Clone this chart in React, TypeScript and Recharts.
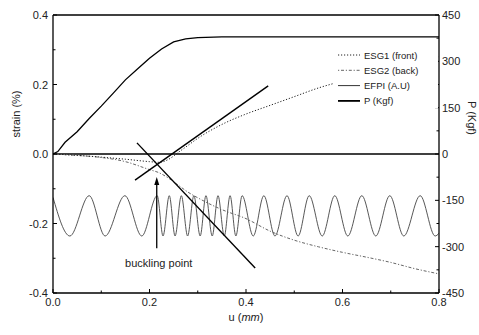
import { LineChart, Line, XAxis, YAxis, ReferenceLine } from 'recharts';

const uTicks = [0, 0.1, 0.2, 0.3, 0.4, 0.5, 0.6, 0.7, 0.8];
const strainTicks = [-0.4, -0.3, -0.2, -0.1, 0, 0.1, 0.2, 0.3, 0.4];
const loadTicks = [-450, -375, -300, -225, -150, -75, 0, 75, 150, 225, 300, 375, 450];

// ESG1 (front)
const esg1U = [0, 0.05, 0.1, 0.15, 0.2, 0.22, 0.24, 0.26, 0.28, 0.3, 0.35, 0.4, 0.45, 0.5, 0.55, 0.6, 0.65, 0.7, 0.75, 0.8];
const esg1V = [0, -0.004, -0.009, -0.015, -0.022, -0.024, -0.015, 0.005, 0.025, 0.045, 0.085, 0.115, 0.14, 0.165, 0.19, 0.21, 0.23, 0.25, 0.265, 0.28];

// ESG2 (back)
const esg2U = [0, 0.05, 0.1, 0.15, 0.2, 0.22, 0.24, 0.26, 0.28, 0.3, 0.35, 0.4, 0.45, 0.5, 0.55, 0.6, 0.65, 0.7, 0.75, 0.8];
const esg2V = [0, -0.004, -0.01, -0.022, -0.045, -0.054, -0.07, -0.09, -0.11, -0.126, -0.16, -0.186, -0.222, -0.248, -0.267, -0.283, -0.297, -0.312, -0.33, -0.345];

// EFPI (A.U) - peaks and troughs
const efpiU = [0, 0.035, 0.075, 0.108, 0.149, 0.184, 0.216, 0.228, 0.241, 0.253, 0.266, 0.279, 0.292, 0.305, 0.317, 0.33, 0.342, 0.355, 0.367, 0.379, 0.392, 0.415, 0.437, 0.46, 0.485, 0.508, 0.531, 0.558, 0.584, 0.611, 0.64, 0.669, 0.698, 0.727, 0.761, 0.792, 0.8];
const efpiV = [-0.125, -0.236, -0.12, -0.236, -0.12, -0.236, -0.12, -0.236, -0.12, -0.236, -0.12, -0.236, -0.12, -0.236, -0.12, -0.236, -0.12, -0.236, -0.12, -0.236, -0.12, -0.236, -0.12, -0.236, -0.12, -0.236, -0.12, -0.236, -0.12, -0.236, -0.12, -0.236, -0.12, -0.236, -0.12, -0.236, -0.228];

// P (Kgf)
const pU = [0, 0.01, 0.025, 0.05, 0.075, 0.1, 0.125, 0.15, 0.175, 0.2, 0.225, 0.25, 0.275, 0.3, 0.35, 0.4, 0.5, 0.6, 0.7, 0.8];
const pV = [0, 8, 38, 72, 115, 155, 197, 240, 275, 310, 340, 363, 373, 377, 379, 379, 379, 379, 379, 379];

// tangent lines and buckling arrow (u, strain)
const riseLine = [{ x: 0.17, y: -0.075 }, { x: 0.446, y: 0.196 }];
const fallLine = [{ x: 0.174, y: 0.032 }, { x: 0.419, y: -0.328 }];
const bucklingArrow = [{ x: 0.215, y: -0.271 }, { x: 0.215, y: -0.066 }];

const zip = (us: number[], vs: number[]) => us.map((u, i) => ({ u, v: vs[i] }));
const esg1 = zip(esg1U, esg1V);
const esg2 = zip(esg2U, esg2V);
const efpi = zip(efpiU, efpiV);
const load = zip(pU, pV);

const FONT = '"Liberation Sans", Arial, sans-serif';

const isMajor = (v: number, step: number) => Math.abs(Math.round(v / step) * step - v) < 1e-6;

function LeftTick({ x, y, payload }: any) {
  const major = isMajor(payload.value, 0.2);
  return (
    <g>
      <line x1={x} x2={x + (major ? 4 : 2.5)} y1={y} y2={y} stroke="#000" strokeWidth={1} />
      {major && (
        <text x={x - 5} y={y} textAnchor="end" dominantBaseline="central" fontSize={11} fontFamily={FONT} fill="#222">
          {payload.value.toFixed(1)}
        </text>
      )}
    </g>
  );
}

function RightTick({ x, y, payload }: any) {
  const major = isMajor(payload.value, 150);
  return (
    <g>
      <line x1={x} x2={x - (major ? 4 : 2.5)} y1={y} y2={y} stroke="#000" strokeWidth={1} />
      {major && (
        <text x={x + 3} y={y} textAnchor="start" dominantBaseline="central" fontSize={11} fontFamily={FONT} fill="#222">
          {payload.value}
        </text>
      )}
    </g>
  );
}

function BottomTick({ x, y, payload }: any) {
  const major = isMajor(payload.value, 0.2);
  return (
    <g>
      <line x1={x} x2={x} y1={y} y2={y - (major ? 4 : 2.5)} stroke="#000" strokeWidth={1} />
      {major && (
        <text x={x} y={y + 9} textAnchor="middle" dominantBaseline="central" fontSize={11} fontFamily={FONT} fill="#222">
          {payload.value.toFixed(1)}
        </text>
      )}
    </g>
  );
}

function ArrowShape({ x1, y1, x2, y2 }: any) {
  return (
    <g>
      <line x1={x1} y1={y1} x2={x2} y2={y2 + 6} stroke="#000" strokeWidth={1.3} />
      <polygon points={`${x2},${y2} ${x2 - 2.5},${y2 + 8} ${x2 + 2.5},${y2 + 8}`} fill="#000" />
      <text x={x1 + 2} y={y1 + 15} textAnchor="middle" dominantBaseline="central" fontSize={11} fontFamily={FONT} fill="#222">
        buckling point
      </text>
    </g>
  );
}

const legendItems = [
  { name: 'ESG1 (front)', dash: '1.2 1.8', width: 1, color: '#222' },
  { name: 'ESG2 (back)', dash: '1.2 1.8 3 1.8', width: 1, color: '#666' },
  { name: 'EFPI (A.U)', dash: undefined, width: 1, color: '#333' },
  { name: 'P (Kgf)', dash: undefined, width: 1.8, color: '#000' },
];

export default function App() {
  return (
    <div style={{ position: 'absolute', left: 0, top: 0, width: 479, height: 335, background: '#fff' }}>
      <LineChart width={479} height={335} margin={{ top: 15, right: 0, bottom: 0, left: 0 }}>
        <XAxis
          dataKey="u"
          type="number"
          domain={[0, 0.8]}
          ticks={uTicks}
          height={42}
          tickSize={0}
          tickMargin={0}
          tick={<BottomTick />}
          axisLine={{ stroke: '#000', strokeWidth: 1.3 }}
          allowDataOverflow
        />
        <YAxis
          yAxisId="left"
          type="number"
          domain={[-0.4, 0.4]}
          ticks={strainTicks}
          width={53}
          tickSize={0}
          tickMargin={0}
          tick={<LeftTick />}
          axisLine={{ stroke: '#000', strokeWidth: 1.3 }}
          allowDataOverflow
        />
        <YAxis
          yAxisId="right"
          orientation="right"
          type="number"
          domain={[-450, 450]}
          ticks={loadTicks}
          width={40}
          tickSize={0}
          tickMargin={0}
          tick={<RightTick />}
          axisLine={{ stroke: '#000', strokeWidth: 1.3 }}
          allowDataOverflow
        />
        <ReferenceLine yAxisId="left" y={0.4} stroke="#000" strokeWidth={1.3} />
        <ReferenceLine yAxisId="left" y={0} stroke="#000" strokeWidth={1.6} />
        <Line yAxisId="left" data={efpi} dataKey="v" type="monotone" stroke="#444" strokeWidth={0.9} dot={false} isAnimationActive={false} />
        <Line yAxisId="left" data={esg2} dataKey="v" type="monotone" stroke="#666" strokeWidth={1} strokeDasharray="1.2 1.8 3 1.8" dot={false} isAnimationActive={false} />
        <Line yAxisId="left" data={esg1} dataKey="v" type="monotone" stroke="#222" strokeWidth={1} strokeDasharray="1.2 1.8" dot={false} isAnimationActive={false} />
        <Line yAxisId="right" data={load} dataKey="v" type="linear" stroke="#000" strokeWidth={1.3} dot={false} isAnimationActive={false} />
        <ReferenceLine yAxisId="left" segment={riseLine} stroke="#000" strokeWidth={1.4} />
        <ReferenceLine yAxisId="left" segment={fallLine} stroke="#000" strokeWidth={1.4} />
        <ReferenceLine yAxisId="left" segment={bucklingArrow} shape={ArrowShape} />
      </LineChart>
      <svg width={479} height={335} style={{ position: 'absolute', left: 0, top: 0, pointerEvents: 'none' }}>
        <text x={16} y={114} transform="rotate(-90 16 114)" textAnchor="middle" dominantBaseline="central" fontSize={11} fontFamily={FONT} fill="#222">
          strain (%)
        </text>
        <text x={472} y={118} transform="rotate(90 472 118)" textAnchor="middle" dominantBaseline="central" fontSize={11} fontFamily={FONT} fill="#222">
          P (Kgf)
        </text>
        <text x={246} y={317} textAnchor="middle" dominantBaseline="central" fontSize={11} fontFamily={FONT} fill="#222">
          u (<tspan fontStyle="italic">mm</tspan>)
        </text>
        <rect x={334} y={46} width={104} height={62} fill="#fff" />
        {legendItems.map((item, i) => {
          const y = 55 + i * 15.3;
          return (
            <g key={item.name}>
              <line x1={338} x2={360} y1={y} y2={y} stroke={item.color} strokeWidth={item.width} strokeDasharray={item.dash} />
              <text x={364} y={y} dominantBaseline="central" fontSize={9.5} fontFamily={FONT} fill="#222">
                {item.name}
              </text>
            </g>
          );
        })}
      </svg>
    </div>
  );
}
